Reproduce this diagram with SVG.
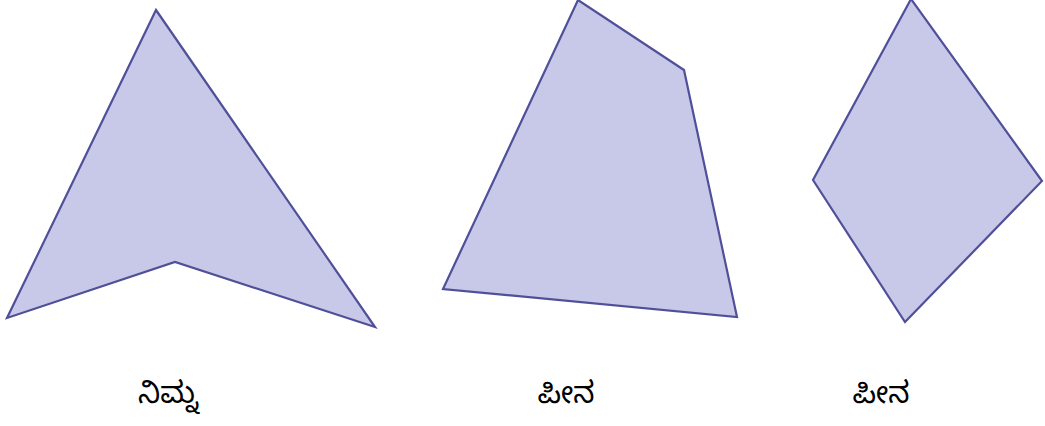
<svg xmlns="http://www.w3.org/2000/svg" width="1045" height="426" viewBox="0 0 1045 426">
<style>
.shape{fill:#c8c8e8;stroke:#50509a;stroke-width:2.2;stroke-linejoin:miter}
.lbl{font-family:"Noto Sans Kannada","Noto Serif Kannada","Tunga","Noto Sans",sans-serif;font-size:30px;fill:#000;text-anchor:middle}
</style>
<rect width="1045" height="426" fill="#fff"/>
<g id="concave">
<polygon class="shape" points="156,10 375,327 175,262 7,318"/>
<text class="lbl" x="168" y="403">ನಿಮ್ನ</text>
</g>
<g id="convex1">
<polygon class="shape" points="578,0 684,70 737,317 443,289"/>
<text class="lbl" x="566" y="403">ಪೀನ</text>
</g>
<g id="convex2">
<polygon class="shape" points="911,-1 1042,181 905,322 813,180"/>
<text class="lbl" x="881" y="403">ಪೀನ</text>
</g>
<g id="connectors"/>
</svg>
